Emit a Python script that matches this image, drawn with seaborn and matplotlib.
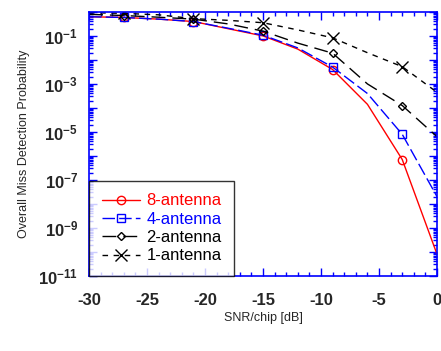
import numpy as np
import matplotlib
matplotlib.use("Agg")
import matplotlib.pyplot as plt
import seaborn as sns
import pandas as pd
from matplotlib.ticker import FixedLocator, NullFormatter

# Данные (значения log10)
snr = [-30, -27, -24, -21, -18, -15, -12, -9, -6, -3, 0]
log_8ant = [-0.2, -0.23, -0.3, -0.4, -0.7, -1.0, -1.55, -2.4, -3.85, -6.15, -10.1]
log_4ant = [-0.2, -0.23, -0.3, -0.4, -0.68, -0.97, -1.5, -2.3, -3.4, -5.1, -7.7]
log_2ant = [-0.1, -0.15, -0.22, -0.3, -0.5, -0.8, -1.3, -1.72, -3.0, -3.9, -5.2]
log_1ant = [-0.03, -0.06, -0.12, -0.28, -0.35, -0.45, -0.75, -1.08, -1.7, -2.28, -3.35]
labels = ["8-antenna", "4-antenna", "2-antenna", "1-antenna"]
colors = ["#ff0000", "#0000ff", "black", "black"]

sns.set_style("white")
plt.rcParams['font.family'] = ['Liberation Sans', 'DejaVu Sans']
plt.rcParams['mathtext.fontset'] = 'custom'
plt.rcParams['mathtext.rm'] = 'Liberation Sans'
plt.rcParams['mathtext.bf'] = 'Liberation Sans:bold'

fig = plt.figure(figsize=(4.41, 3.51), dpi=100)
ax = fig.add_axes([0.202, 0.214, 0.789, 0.752])

series = [log_8ant, log_4ant, log_2ant, log_1ant]
styles = [
    dict(linestyle="-", marker="o", markersize=6),
    dict(linestyle=(0, (9, 3)), marker="s", markersize=6),
    dict(linestyle=(0, (10, 5)), marker="D", markersize=4),
    dict(linestyle=(0, (4, 4)), marker="x", markersize=8),
]
for lab, vals, col, st in zip(labels, series, colors, styles):
    df = pd.DataFrame({"snr": snr, "p": 10.0 ** np.array(vals)})
    sns.lineplot(data=df, x="snr", y="p", ax=ax, color=col, linewidth=1,
                 markevery=[1, 3, 5, 7, 9], markerfacecolor="none",
                 markeredgecolor=col, markeredgewidth=1, label=lab, **st)

ax.set_yscale("log")
ax.set_xlim(-30, 0)
ax.set_ylim(1e-11, 1)

ax.set_xticks([-30, -25, -20, -15, -10, -5, 0])
ax.set_xticklabels(["-30", "-25", "-20", "-15", "-10", "-5", "0"], fontweight="bold", fontsize=12)
ax.xaxis.set_minor_locator(FixedLocator(np.arange(-30, 1, 1)))

dec = list(range(-11, 1))
ax.yaxis.set_major_locator(FixedLocator([10.0 ** k for k in dec]))
ax.set_yticklabels([r"$\mathbf{10^{%d}}$" % k if k % 2 else "" for k in dec], fontsize=12)
minor = [m * 10.0 ** k for k in range(-11, 0) for m in range(2, 10)]
ax.yaxis.set_minor_locator(FixedLocator(minor))
ax.yaxis.set_minor_formatter(NullFormatter())

ax.tick_params(which="both", direction="in", color="#0000ff",
               bottom=True, left=True, top=True, right=True, width=1)
ax.tick_params(axis="x", which="major", length=6, pad=12)
ax.tick_params(axis="y", which="major", length=6, pad=8)
ax.tick_params(which="minor", length=3)
for sp in ax.spines.values():
    sp.set_color("#0000ff")
    sp.set_linewidth(1.2)

ax.set_xlabel("SNR/chip [dB]", fontsize=9, labelpad=3)
ax.set_ylabel("Overall Miss Detection Probability", fontsize=9, labelpad=6)

leg = ax.legend(loc="lower left", fontsize=12, frameon=True, fancybox=False,
                handlelength=2.3, handletextpad=0.4, borderaxespad=0,
                labelspacing=0.2, borderpad=0.75)
leg.get_frame().set_edgecolor("black")
leg.get_frame().set_linewidth(1)
for txt, col in zip(leg.get_texts(), colors):
    txt.set_color(col)

fig.savefig("out.png", dpi=100)
